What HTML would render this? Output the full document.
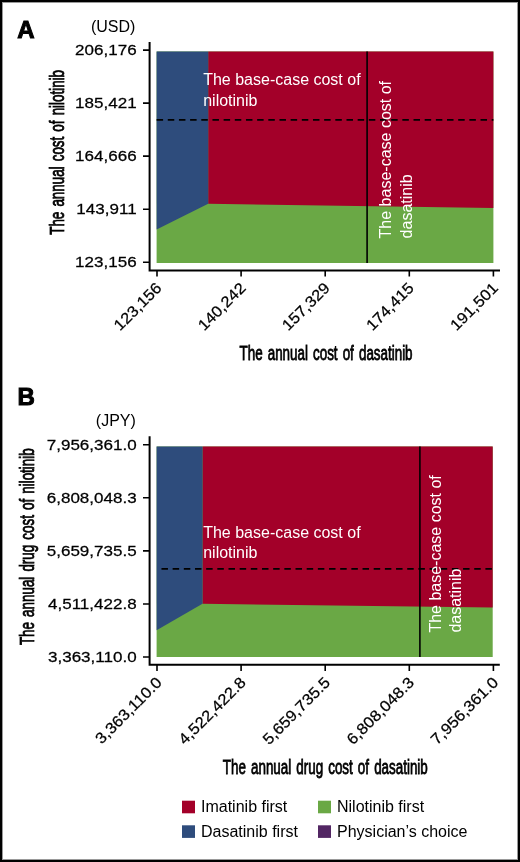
<!DOCTYPE html>
<html><head><meta charset="utf-8">
<style>
html,body{margin:0;padding:0;background:#fff;}
body{width:520px;height:862px;overflow:hidden;}
svg{display:block;will-change:transform;}
text{font-family:"Liberation Sans",sans-serif;fill:#000;}
.tk{font-size:15.4px;letter-spacing:0px;stroke:#000;stroke-width:0.25px;}
.ti{font-size:19.6px;word-spacing:2.0px;stroke:#000;stroke-width:0.8px;}
.an{font-size:16px;fill:#fff;}
.lg{font-size:16px;}
</style></head>
<body>
<svg width="520" height="862" viewBox="0 0 520 862">
<rect x="0" y="0" width="520" height="862" fill="#fff"/>

<!-- ============ PANEL A ============ -->
<text x="17.3" y="37.5" font-size="24" font-weight="bold" stroke="#000" stroke-width="1">A</text>
<text x="135.4" y="31.6" font-size="16" text-anchor="end">(USD)</text>

<rect x="156.6" y="51.5" width="336.8" height="211.5" fill="#6aa845"/>
<polygon points="208.2,51.5 493.4,51.5 493.4,207.9 208.2,203.8" fill="#a30029"/>
<polygon points="156.6,51.5 208.2,51.5 208.2,203.8 156.6,229.4" fill="#2e4c7c"/>

<line x1="156.6" y1="119.8" x2="493.4" y2="119.8" stroke="#000" stroke-width="1.8" stroke-dasharray="6.5 4.67"/>
<line x1="367.1" y1="51.5" x2="367.1" y2="263" stroke="#000" stroke-width="1.6"/>

<text class="an" x="203.2" y="85">The base-case cost of</text>
<text class="an" x="203.2" y="105.7">nilotinib</text>
<text class="an" transform="translate(391.2,238.4) rotate(-90)">The base-case cost of</text>
<text class="an" transform="translate(412,238.4) rotate(-90)">dasatinib</text>

<path d="M149.6,42.1 V270.5 H500" fill="none" stroke="#000" stroke-width="2"/>
<path d="M143,50.1 H149.6 M143,103.1 H149.6 M143,156.1 H149.6 M143,209.2 H149.6 M143,262.2 H149.6" stroke="#000" stroke-width="1.6"/>
<path d="M157,270.5 V276.6 M241.1,270.5 V276.6 M325.2,270.5 V276.6 M409.3,270.5 V276.6 M493.4,270.5 V276.6" stroke="#000" stroke-width="1.6"/>

<g class="tk" text-anchor="end">
<text transform="translate(136.6,55.30) scale(1.105,1)">206,176</text>
<text transform="translate(136.6,108.30) scale(1.105,1)">185,421</text>
<text transform="translate(136.6,161.30) scale(1.105,1)">164,666</text>
<text transform="translate(136.6,214.40) scale(1.105,1)">143,911</text>
<text transform="translate(136.6,267.40) scale(1.105,1)">123,156</text>
</g>
<g class="tk" text-anchor="end">
<text transform="translate(162.60,289.00) rotate(-45) scale(1.08,1)">123,156</text>
<text transform="translate(246.70,289.00) rotate(-45) scale(1.08,1)">140,242</text>
<text transform="translate(330.80,289.00) rotate(-45) scale(1.08,1)">157,329</text>
<text transform="translate(414.90,289.00) rotate(-45) scale(1.08,1)">174,415</text>
<text transform="translate(499.00,289.00) rotate(-45) scale(1.08,1)">191,501</text>
</g>
<text class="ti" transform="translate(239.5,359.5) scale(0.684,1)">The annual cost of dasatinib</text>
<text class="ti" transform="translate(64,234.8) rotate(-90) scale(0.684,1)">The annual cost of nilotinib</text>

<!-- ============ PANEL B ============ -->
<text x="17.6" y="405" font-size="24" font-weight="bold" stroke="#000" stroke-width="1">B</text>
<text x="135.8" y="425.6" font-size="16" text-anchor="end">(JPY)</text>

<rect x="156.6" y="446.5" width="336.1" height="210.5" fill="#6aa845"/>
<polygon points="202.5,446.5 492.7,446.5 492.7,607.6 202.5,603.8" fill="#a30029"/>
<polygon points="156.6,446.5 202.5,446.5 202.5,603.8 156.6,630.2" fill="#2e4c7c"/>

<line x1="157" y1="568.9" x2="492.7" y2="568.9" stroke="#000" stroke-width="1.8" stroke-dasharray="6.5 4.67" stroke-dashoffset="6.7"/>
<line x1="419.9" y1="446.5" x2="419.9" y2="657" stroke="#000" stroke-width="1.6"/>

<text class="an" x="203.2" y="538.3">The base-case cost of</text>
<text class="an" x="203.2" y="558.3">nilotinib</text>
<text class="an" transform="translate(440.6,632.6) rotate(-90)">The base-case cost of</text>
<text class="an" transform="translate(461,632.6) rotate(-90)">dasatinib</text>

<path d="M149.6,436.3 V664.7 H499.8" fill="none" stroke="#000" stroke-width="2"/>
<path d="M143,444.7 H149.6 M143,497.8 H149.6 M143,550.9 H149.6 M143,604 H149.6 M143,657 H149.6" stroke="#000" stroke-width="1.6"/>
<path d="M157,664.7 V671 M241.1,664.7 V671 M325.2,664.7 V671 M409.3,664.7 V671 M493.4,664.7 V671" stroke="#000" stroke-width="1.6"/>

<g class="tk" text-anchor="end">
<text transform="translate(136.6,449.90) scale(1.105,1)">7,956,361.0</text>
<text transform="translate(136.6,503.00) scale(1.105,1)">6,808,048.3</text>
<text transform="translate(136.6,556.10) scale(1.105,1)">5,659,735.5</text>
<text transform="translate(136.6,609.20) scale(1.105,1)">4,511,422.8</text>
<text transform="translate(136.6,662.20) scale(1.105,1)">3,363,110.0</text>
</g>
<g class="tk" text-anchor="end">
<text transform="translate(162.80,683.50) rotate(-45) scale(1.08,1)">3,363,110.0</text>
<text transform="translate(246.90,683.50) rotate(-45) scale(1.08,1)">4,522,422.8</text>
<text transform="translate(331.00,683.50) rotate(-45) scale(1.08,1)">5,659,735.5</text>
<text transform="translate(415.10,683.50) rotate(-45) scale(1.08,1)">6,808,048.3</text>
<text transform="translate(499.20,683.50) rotate(-45) scale(1.08,1)">7,956,361.0</text>
</g>
<text class="ti" transform="translate(222.8,773.7) scale(0.684,1)">The annual drug cost of dasatinib</text>
<text class="ti" transform="translate(34.4,645.1) rotate(-90) scale(0.684,1)">The annual drug cost of nilotinib</text>

<!-- legend -->
<rect x="182" y="800.7" width="13" height="12.6" fill="#a30029"/>
<rect x="182" y="825.3" width="13" height="12.6" fill="#2e4c7c"/>
<rect x="318" y="800.7" width="13" height="12.6" fill="#6aa845"/>
<rect x="318" y="825.3" width="13" height="12.6" fill="#522663"/>
<text class="lg" x="201" y="812.3">Imatinib first</text>
<text class="lg" x="201" y="837">Dasatinib first</text>
<text class="lg" x="337" y="812.3">Nilotinib first</text>
<text class="lg" x="337" y="837">Physician’s choice</text>

<!-- border -->
<rect x="2.5" y="2.5" width="515" height="857" fill="none" stroke="#999" stroke-width="1"/>
<rect x="1" y="1" width="518" height="860" fill="none" stroke="#000" stroke-width="2"/>
</svg>
</body></html>
